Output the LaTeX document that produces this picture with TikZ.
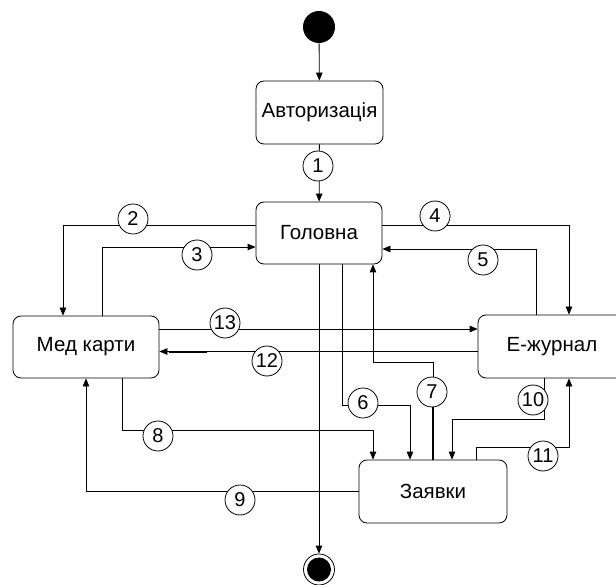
\documentclass[tikz,border=0pt]{standalone}
\usepackage{fontspec}
\setmainfont{Liberation Sans}
\usetikzlibrary{arrows.meta}

\tikzset{
  state/.style={draw, rounded corners=8pt, fill=white, inner sep=0pt,
    font=\fontsize{20.5}{24}\selectfont},
  num/.style={draw, circle, fill=white, minimum size=30pt, inner sep=0pt,
    font=\fontsize{20}{24}\selectfont},
  arr/.style={-{Triangle[length=8pt,width=6.5pt]}},
}

\begin{document}
\begin{tikzpicture}[x=1pt, y=-1pt, line width=0.8pt]

\useasboundingbox (0,0) rectangle (616,585);
\clip (0,0) rectangle (616,585);

% start and final states
\node (start) at (319,27) [circle, fill=black, minimum size=32pt, inner sep=0pt] {};
\node (end) at (319,569.5) [circle, draw, fill=white, minimum size=31pt, inner sep=0pt] {};
\fill (end.center) circle (12pt);

% screens
\node (auth) at (319.5,112.5) [state, minimum width=127pt, minimum height=63pt] {Авторизація};
\node (main) at (319,233) [state, minimum width=126pt, minimum height=62pt] {Головна};
\node (med) at (86,347) [state, minimum width=146pt, minimum height=62pt] {Мед карти};
\node (ej) at (552,346.5) [state, minimum width=148pt, minimum height=63pt] {E-журнал};
\node (req) at (433,491.5) [state, minimum width=148pt, minimum height=63pt] {Заявки};

% transitions
\draw [arr] (start) -- (auth);
\draw [arr] (auth) -- (main);
\draw [arr] (main.south) -- (end.north);

\draw [arr] ([yshift=8pt]main.west) -| ([xshift=-23pt]med.north);
\draw [arr] ([xshift=16pt]med.north) |- ([yshift=-14pt]main.west);
\draw [arr] ([yshift=8pt]main.east) -| ([xshift=17pt]ej.north);
\draw [arr] ([xshift=-16pt]ej.north) |- ([yshift=-16pt]main.east);

\draw [arr] ([yshift=18pt]med.east) -- ([yshift=18pt]med.east -| ej.west);
\draw [arr] ([yshift=-5pt]ej.west) -- ([yshift=-5pt]ej.west -| med.east);
\draw [line width=1.5pt] ([yshift=-5pt]ej.west) -- ++(-41,0);
\draw [line width=1.5pt] ([yshift=-5pt,xshift=10pt]med.east) -- ++(38,0);

\draw [arr] ([xshift=23pt]main.south) -- ++(0,141) -| ([xshift=-23pt]req.north);
\draw [arr] (req.north) -- ++(0,-97) -| ([xshift=54pt]main.south);
\draw [line width=1.5pt] (req.north) -- ++(0,-60);
\draw [arr] ([xshift=36pt]med.south) -- ++(0,52) -| ([xshift=-60pt]req.north);
\draw [arr] (req.west) -| (med.south);
\draw [arr] ([xshift=-8pt]ej.south) -- ++(0,41) -| ([xshift=19pt]req.north);
\draw [arr] ([xshift=43pt]req.north) -- ++(0,-12) -| ([xshift=17pt]ej.south);

% transition numbers
\foreach \n/\x/\y in {1/318/166, 2/133/219, 3/197/255, 4/435/216, 5/483/260,
                      6/363/403, 7/432/392, 8/158/436, 9/240/500, 10/533/400,
                      11/543/456, 12/267/361, 13/225/323}
  \node (l\n) at (\x,\y) [num] {\n};

\end{tikzpicture}
\end{document}
